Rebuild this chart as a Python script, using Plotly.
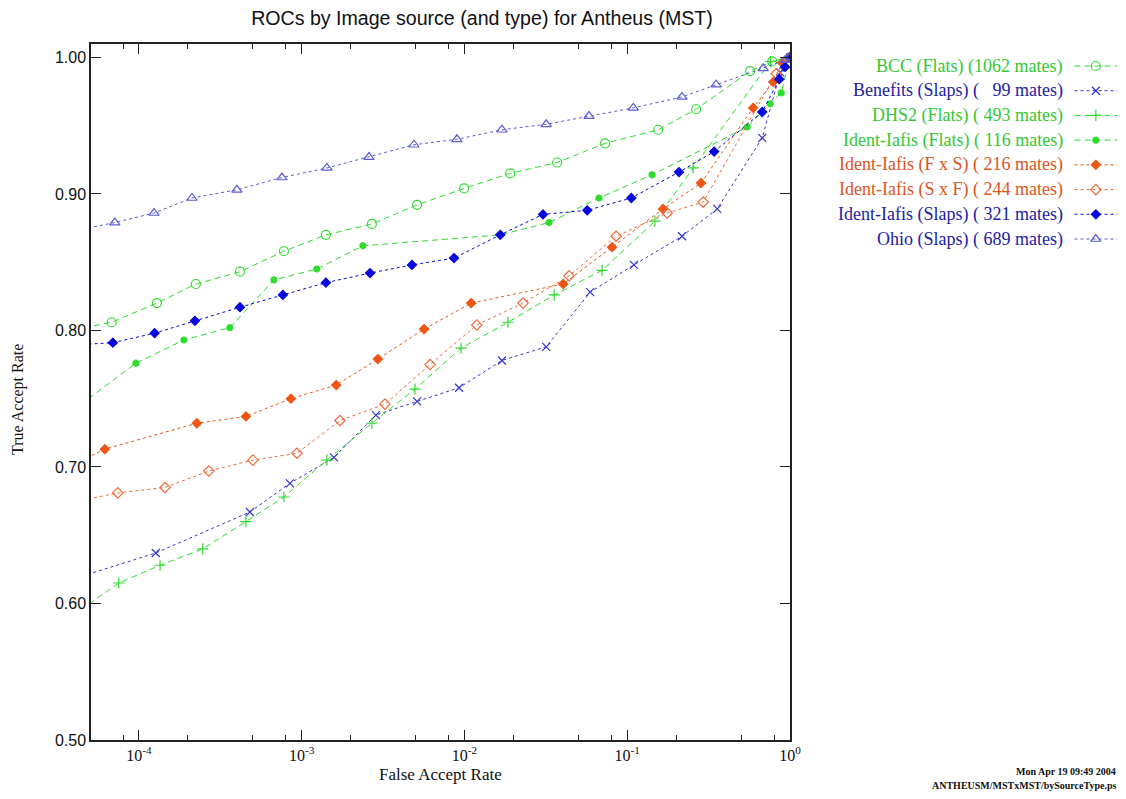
import plotly.graph_objects as go

# ---------------- data ----------------
bcc_far = [3.5e-5, 6.8e-5, 1.29e-4, 2.24e-4, 4.18e-4, 7.78e-4, 1.41e-3, 2.70e-3, 5.12e-3, 9.95e-3,
           1.91e-2, 3.71e-2, 7.31e-2, 0.155, 0.265, 0.569, 0.778, 1.0]
bcc_tar = [0.799, 0.806, 0.820, 0.834, 0.843, 0.858, 0.870, 0.878, 0.892, 0.904,
           0.915, 0.923, 0.937, 0.947, 0.962, 0.990, 0.997, 1.0]

benefits_far = [3.5e-5, 1.27e-4, 4.81e-4, 8.47e-4, 1.58e-3, 2.86e-3, 5.12e-3, 9.27e-3, 1.70e-2,
                3.18e-2, 5.92e-2, 0.110, 0.217, 0.357, 0.675, 0.871, 1.0]
benefits_tar = [0.616, 0.637, 0.667, 0.688, 0.707, 0.738, 0.748, 0.758, 0.778,
                0.788, 0.828, 0.848, 0.869, 0.889, 0.941, 0.989, 1.0]

dhs2_far = [3.5e-5, 7.53e-5, 1.35e-4, 2.47e-4, 4.55e-4, 7.78e-4, 1.43e-3, 2.70e-3, 4.97e-3,
            9.53e-3, 1.85e-2, 3.56e-2, 7.01e-2, 0.148, 0.254, 0.759, 1.0]
dhs2_tar = [0.587, 0.615, 0.628, 0.640, 0.660, 0.678, 0.705, 0.732, 0.757,
            0.787, 0.806, 0.826, 0.844, 0.880, 0.919, 0.997, 1.0]

iafis_flats_far = [3.5e-5, 9.59e-5, 1.89e-4, 3.62e-4, 6.76e-4, 1.24e-3, 2.38e-3, 1.66e-2, 3.31e-2,
                   6.71e-2, 0.142, 0.546, 0.755, 0.883, 1.0]
iafis_flats_tar = [0.737, 0.776, 0.793, 0.802, 0.837, 0.845, 0.862, 0.870, 0.879,
                   0.897, 0.914, 0.949, 0.966, 0.974, 1.0]

iafis_fxs_far = [3.5e-5, 6.18e-5, 2.27e-4, 4.55e-4, 8.59e-4, 1.63e-3, 2.94e-3, 5.65e-3, 1.10e-2,
                 4.04e-2, 8.07e-2, 0.166, 0.284, 0.594, 0.789, 0.895, 1.0]
iafis_fxs_tar = [0.699, 0.713, 0.732, 0.737, 0.750, 0.760, 0.779, 0.801, 0.820,
                 0.834, 0.861, 0.889, 0.908, 0.963, 0.982, 0.996, 1.0]

iafis_sxf_far = [3.5e-5, 7.43e-5, 1.45e-4, 2.69e-4, 5.02e-4, 9.35e-4, 1.72e-3, 3.25e-3, 6.15e-3,
                 1.19e-2, 2.29e-2, 4.40e-2, 8.55e-2, 0.176, 0.293, 0.822, 1.0]
iafis_sxf_tar = [0.673, 0.681, 0.685, 0.697, 0.705, 0.710, 0.734, 0.746, 0.775,
                 0.804, 0.820, 0.840, 0.869, 0.886, 0.894, 0.988, 1.0]

iafis_slaps_far = [3.5e-5, 6.92e-5, 1.25e-4, 2.21e-4, 4.18e-4, 7.67e-4, 1.41e-3, 2.63e-3, 4.76e-3,
                   8.63e-3, 1.66e-2, 3.04e-2, 5.68e-2, 0.106, 0.208, 0.342, 0.675, 0.859, 0.933, 1.0]
iafis_slaps_tar = [0.789, 0.791, 0.798, 0.807, 0.817, 0.826, 0.835, 0.842, 0.848,
                   0.853, 0.870, 0.885, 0.888, 0.897, 0.916, 0.931, 0.960, 0.984, 0.993, 1.0]

ohio_far = [3.5e-5, 7.11e-5, 1.24e-4, 2.12e-4, 4.00e-4, 7.57e-4, 1.43e-3, 2.59e-3, 4.90e-3,
            8.99e-3, 1.70e-2, 3.18e-2, 5.83e-2, 0.109, 0.217, 0.352, 0.684, 0.933, 1.0]
ohio_tar = [0.8715, 0.879, 0.886, 0.897, 0.903, 0.912, 0.919, 0.927, 0.936,
            0.940, 0.947, 0.951, 0.957, 0.963, 0.971, 0.980, 0.992, 0.998, 1.0]

series_labels = [
    "BCC (Flats) (1062 mates)",
    "Benefits (Slaps) (\u00a0\u00a0\u00a099 mates)",
    "DHS2 (Flats) ( 493 mates)",
    "Ident-Iafis (Flats) ( 116 mates)",
    "Ident-Iafis (F x S) ( 216 mates)",
    "Ident-Iafis (S x F) ( 244 mates)",
    "Ident-Iafis (Slaps) ( 321 mates)",
    "Ohio (Slaps) ( 689 mates)",
]
series_far = [bcc_far, benefits_far, dhs2_far, iafis_flats_far,
              iafis_fxs_far, iafis_sxf_far, iafis_slaps_far, ohio_far]
series_tar = [bcc_tar, benefits_tar, dhs2_tar, iafis_flats_tar,
              iafis_fxs_tar, iafis_sxf_tar, iafis_slaps_tar, ohio_tar]

x_tick_vals = [1e-4, 1e-3, 1e-2, 1e-1, 1.0]
x_tick_text = ["10<sup>-4</sup>", "10<sup>-3</sup>", "10<sup>-2</sup>", "10<sup>-1</sup>", "10<sup>0</sup>"]
x_minor_vals = [8e-5, 2e-4, 5e-4, 8e-4, 2e-3, 5e-3, 8e-3, 2e-2, 5e-2, 8e-2, 0.2, 0.5, 0.8]
y_tick_vals = [0.5, 0.6, 0.7, 0.8, 0.9, 1.0]

# ---------------- styles ----------------
GREEN = "#2edc2e"
BLUE = "#0606dc"
BLUE_X = "#3535c8"
BLUE_TRI = "#5b5bd8"
ORANGE = "#ee5512"
ORANGE_O = "#ee6a3a"
styles = [
    dict(color=GREEN, symbol="circle-open", size=9, dash="6px,4px", text="#33c833"),
    dict(color=BLUE_X, symbol="x-thin", size=8, dash="3px,3px", text="#2222a6"),
    dict(color=GREEN, symbol="cross-thin", size=8, dash="6px,4px", text="#33c833"),
    dict(color=GREEN, symbol="circle", size=6, dash="6px,4px", text="#33c833"),
    dict(color=ORANGE, symbol="diamond", size=7, dash="3px,3px", text="#dc5522"),
    dict(color=ORANGE_O, symbol="diamond-open", size=8, dash="3px,3px", text="#dc5522"),
    dict(color=BLUE, symbol="diamond", size=7, dash="3px,3px", text="#2222a6"),
    dict(color=BLUE_TRI, symbol="triangle-up-open", size=9, dash="3px,3px", text="#2222a6"),
]

SERIF = "Liberation Serif"
SANS = "Liberation Sans"

# The page body has an 8px margin; keep the figure inside the window (no overflow).
OFF = 8
W, H = 1126 - 2 * OFF, 799 - 2 * OFF
ML = 91 - OFF
MT = 44 - OFF
PLOT_BOTTOM = 740 - OFF
MB = H - PLOT_BOTTOM
PLOT_RIGHT = 790 - OFF
PAPER_W = W - ML
PAPER_H = H - MT - MB


def px_x(ref_px):
    """reference-screenshot x pixel -> paper fraction"""
    return (ref_px - OFF - ML) / PAPER_W


def px_y(ref_py):
    """reference-screenshot y pixel -> paper fraction"""
    return (PLOT_BOTTOM - (ref_py - OFF)) / PAPER_H


fig = go.Figure()

for i, (lab, far, tar, st) in enumerate(zip(series_labels, series_far, series_tar, styles)):
    fig.add_trace(go.Scatter(
        x=far, y=tar, mode="lines+markers", name=lab,
        line=dict(color=st["color"], width=1, dash=st["dash"]),
        marker=dict(symbol=st["symbol"], size=st["size"], color=st["color"],
                    line=dict(color=st["color"], width=1.2)),
        cliponaxis=True, showlegend=False, xaxis="x", yaxis="y",
    ))
    # legend key (line sample + marker) on a hidden helper axis
    fig.add_trace(go.Scatter(
        x=[0, 2], y=[-i, -i], mode="lines",
        line=dict(color=st["color"], width=1, dash=st["dash"]),
        showlegend=False, hoverinfo="skip", xaxis="x2", yaxis="y2",
    ))
    fig.add_trace(go.Scatter(
        x=[1], y=[-i], mode="markers",
        marker=dict(symbol=st["symbol"], size=st["size"], color=st["color"],
                    line=dict(color=st["color"], width=1.2)),
        showlegend=False, hoverinfo="skip", xaxis="x2", yaxis="y2",
    ))
    fig.add_annotation(text=lab, xref="paper", x=px_x(1065), yref="y2", y=-i,
                       xanchor="right", yanchor="middle", showarrow=False,
                       font=dict(family=SERIF, size=18, color=st["text"]))

axis_color = "#222222"
fig.update_layout(
    width=W, height=H, autosize=False,
    margin=dict(l=ML, r=0, t=MT, b=MB, autoexpand=False),
    paper_bgcolor="white", plot_bgcolor="white",
    showlegend=False,
    title=dict(text="ROCs by Image source (and type) for Antheus (MST)",
               x=px_x(482), xref="paper", xanchor="center",
               y=1 - (18 - OFF) / H, yref="container", yanchor="middle",
               font=dict(family=SANS, size=19.6, color="#111111")),
    xaxis=dict(type="log", domain=[0, (PLOT_RIGHT - ML) / PAPER_W],
               range=[-4.294, 0], showgrid=False, zeroline=False,
               showline=True, linecolor=axis_color, linewidth=1.5, mirror="ticks",
               ticks="inside", ticklen=10, tickwidth=1.2, tickcolor=axis_color,
               tickmode="array", tickvals=x_tick_vals, ticktext=x_tick_text,
               tickfont=dict(family=SERIF, size=16, color="#111111"),
               minor=dict(ticks="inside", ticklen=5, tickwidth=1, tickcolor=axis_color,
                          tickmode="array", tickvals=x_minor_vals, showgrid=False)),
    yaxis=dict(range=[0.5, 1.0098], showgrid=False, zeroline=False,
               showline=True, linecolor=axis_color, linewidth=1.5, mirror="ticks",
               ticks="inside", ticklen=10, tickwidth=1.2, tickcolor=axis_color,
               tickmode="array", tickvals=y_tick_vals, tickformat=".2f",
               tickfont=dict(family=SANS, size=16, color="#111111")),
    xaxis2=dict(domain=[px_x(1072), 1.0], range=[-0.12, 2.04], visible=False,
                anchor="y2", fixedrange=True),
    yaxis2=dict(domain=[0, 1], range=[-27.27, 0.89], visible=False,
                anchor="x2", fixedrange=True),
)

# axis titles
fig.add_annotation(text="False Accept Rate", xref="paper", yref="paper",
                   x=px_x(440), y=px_y(774), showarrow=False,
                   xanchor="center", yanchor="middle",
                   font=dict(family=SERIF, size=17, color="#111111"))
fig.add_annotation(text="True Accept Rate", xref="paper", yref="paper",
                   x=px_x(18), y=px_y(400), showarrow=False, textangle=-90,
                   xanchor="center", yanchor="middle",
                   font=dict(family=SERIF, size=16, color="#111111"))

# footer stamps
fig.add_annotation(text="<b>Mon Apr 19 09:49 2004</b>", xref="paper", yref="paper",
                   x=px_x(1118), y=px_y(771), showarrow=False,
                   xanchor="right", yanchor="middle",
                   font=dict(family=SERIF, size=10, color="#111111"))
fig.add_annotation(text="<b>ANTHEUSM/MSTxMST/bySourceType.ps</b>", xref="paper", yref="paper",
                   x=px_x(1118), y=px_y(785), showarrow=False,
                   xanchor="right", yanchor="middle",
                   font=dict(family=SERIF, size=10, color="#111111"))

fig.write_html("out.html")
